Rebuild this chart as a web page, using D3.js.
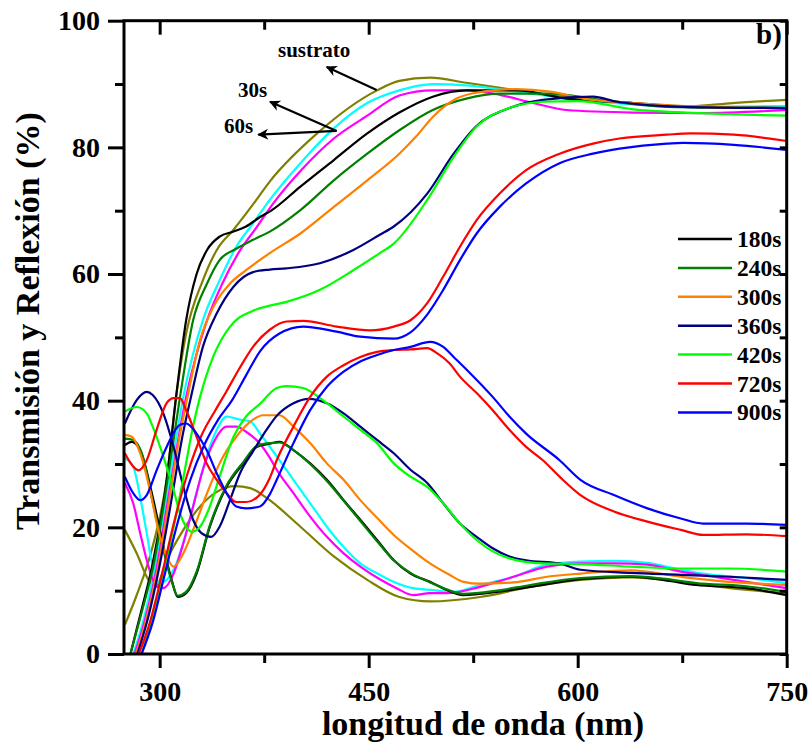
<!DOCTYPE html>
<html><head><meta charset="utf-8">
<script src="https://cdn.jsdelivr.net/npm/d3@7"></script>
<style>body{margin:0;background:#fff}</style>
</head><body>
<svg id="c" width="812" height="747"></svg>
<script>
// ---------- axis ticks ----------
const xTicks = [300, 450, 600, 750];
const xMinor = [375, 525, 675];
const yTicks = [0, 20, 40, 60, 80, 100];
const yMinor = [10, 30, 50, 70, 90];
const legendNames = ["180s","240s","300s","360s","420s","720s","900s"];

// ---------- data: [wavelength nm, %] ----------
const T_sustrato = [[275,4.6],[283,9],[295,17],[305,27.5],[312,41],[319,50.6],[331,59],[341,63.8],[353,67],[367,71],[379,74.6],[413,82.2],[456,89],[472,90.5],[494,91],[520,90.2],[556,89],[592,87.9],[640,87],[681,86.5],[711,87],[750,87.5]];
const R_sustrato = [[275,19.6],[283.5,15.9],[292,11.7],[297,10.6],[305,14.8],[317,19.6],[329,23.3],[341,25.6],[354,26.5],[365,26.2],[377,24.6],[401,20.1],[425,15.4],[449,11.7],[472,9],[494,8.3],[530,9],[566,10.6],[602,11.7],[638,12.1],[674,11.4],[709,10.4],[750,9.6]];

const T_30s = [[281,0],[288,5],[295,12],[307,27.5],[317,40.6],[331,52.7],[343,59],[355,64.3],[367,68],[379,71.7],[401,77.5],[425,83],[449,87],[472,89],[496,90],[520,89.8],[556,88.8],[592,87.7],[640,86.8],[688,86.4],[750,86.5]];
const R_30s = [[275,30.9],[281,29.6],[286,24.8],[290.7,19.1],[295,13.8],[300,11.2],[305,11.7],[312,14.3],[319,19.1],[326.5,25.4],[333.7,31.2],[341,35.4],[348,37.5],[357.6,37],[365,36.7],[372,34.8],[384,31.2],[396,27.5],[408,23.8],[420,20.1],[432,16.9],[444,14.3],[458,12.5],[465,11.7],[482,10.4],[496,10.1],[511,9.8],[530,10.9],[554,12.2],[578,14.1],[602,14.6],[626,14.7],[650,14.4],[674,13.3],[697,12.5],[721,12],[750,11.2]];

const T_60s = [[282,0],[289,5],[296,11.5],[308,27],[319,40.6],[334,52.7],[345,58.5],[357,63.5],[369,67.2],[381,71],[402,76.5],[425,81.4],[449,85],[472,88.2],[496,89],[520,89],[544,88.3],[568,87],[592,85.9],[640,85.5],[688,85.4],[750,85.9]];
const R_60s = [[275,27],[281,23.8],[286,19.1],[292,13.8],[298,10.6],[302.6,10.4],[310,12.7],[317,17.5],[324,23.3],[331,29.1],[338.5,33.3],[348,35.9],[355,35.9],[362,35.1],[372,33.2],[379,31],[384,29.1],[396,25.4],[408,21.7],[420,18.5],[432,15.9],[444,13.8],[458,11.8],[470,10.4],[482,9.3],[494,9.6],[506,9.6],[530,10.6],[554,12.2],[578,13.8],[602,14.3],[626,14.3],[650,14.1],[674,13],[697,12.2],[721,11.4],[750,10.4]];

const T_180s = [[279,0],[287,7],[295,14.3],[305,27.5],[312,41],[319,52.7],[326.5,60],[334,63.8],[343,65.9],[353,66.7],[362,67.5],[372,69],[380,70],[401,73.8],[425,78],[449,82.2],[472,85.5],[496,88],[520,89],[556,89],[592,87.7],[640,87],[676,86.4],[750,86.2]];
const R_180s = [[275,33],[280,33.5],[286,32.2],[295,24.8],[302.6,17],[308.6,11.7],[313,9],[319,9.6],[326.5,12.7],[336,20.1],[348,26.4],[360,30.1],[369.6,32.7],[379,33.2],[386,33.5],[396,32.2],[408,30.1],[420,27.5],[432,24.3],[444,21.2],[456,18],[468,14.8],[480,12.7],[494,11.4],[506,10.1],[518,9.3],[542,9.8],[566,10.6],[602,11.8],[638,12.2],[661,11.7],[685,10.9],[721,10.4],[750,9.3]];

const T_240s = [[279,0],[287,6.5],[296,14.5],[306,28],[314.6,40.6],[324,52.7],[334,58.5],[343,62.2],[355,64],[367,65.4],[379,66.7],[401,70.1],[425,74.8],[449,79],[472,82.7],[496,85.9],[520,87.7],[544,88.5],[580,88.5],[616,87.5],[664,86.4],[750,86.2]];
const R_240s = [[275,34],[281,33.8],[287,31.8],[295,24],[302.6,16.5],[308.6,11.5],[313,9.2],[319,9.8],[326.5,13],[336,20.3],[348,26.6],[360,30.3],[369.6,32.8],[379,33.3],[386,33.4],[396,32.2],[408,30],[420,27.3],[432,24.2],[444,21],[456,17.8],[468,14.8],[480,12.8],[494,11.3],[506,10.2],[518,9.5],[542,10],[566,10.9],[602,12],[638,12.3],[661,11.9],[685,11.2],[721,10.7],[750,9.8]];

const T_300s = [[283,0],[291,6],[299,14],[308,26],[314,34],[320,40.6],[329,49.6],[338.5,54.8],[350.5,58.5],[362,60.6],[379,63.3],[401,66.4],[425,70.6],[449,74.8],[472,79],[484,81.7],[496,84.8],[513,87.7],[532,88.8],[556,89.2],[580,88.8],[604,87.7],[640,87],[688,86.4],[750,86.2]];
const R_300s = [[275,34.6],[280,34.3],[286,31.7],[293,25.9],[299,19.6],[305,15.4],[310,13.8],[317,15.9],[324,19.6],[334,25.4],[343,30.1],[355,34.3],[367,37],[374,37.7],[386,37.7],[396,35.9],[408,33.3],[420,30.1],[432,27.5],[444,24.3],[456,21.5],[468,18.8],[480,16.6],[494,14.3],[508,12.5],[518,11.4],[530,11.1],[554,11.3],[578,12.2],[602,12.7],[638,13.2],[674,12.2],[709,11.4],[750,10.9]];

const T_360s = [[284,0],[292,6],[300,14],[309,25],[316,34],[322.5,40.6],[331,48.5],[341,53.8],[353,58],[367,60.3],[379,60.7],[391,60.9],[415,61.7],[439,63.8],[458,66.2],[468,67.5],[492,72.7],[511,79],[527,83.3],[551,86.2],[575,87.5],[611,88],[628,87.2],[676,86.4],[750,86.2]];
const R_360s = [[275,36.4],[283.5,40.1],[290.7,41.4],[295,40.9],[302.6,38],[310,32.7],[317,26.4],[324,21.2],[330,19.1],[337,18.5],[343,20.1],[350.5,24.3],[357.6,28.5],[367,32],[377,35.5],[384,37.6],[396,39.6],[407,40.3],[420,39.6],[432,38],[444,35.9],[456,33.8],[468,31.7],[480,29.1],[492,27],[503.5,23.8],[515.5,20.6],[527.5,18.5],[539,16.7],[551,15.4],[563,14.8],[587,14.3],[602,13.3],[638,12.8],[674,12.5],[709,12.2],[750,11.7]];

const T_420s = [[287,0],[294,5],[302,12],[310,20],[318,29],[324,36],[329,40.6],[338.5,47],[350.5,51.7],[367,54.2],[379,55],[391,55.6],[415,57.5],[439,60.6],[458,63.3],[468,64.8],[492,71.7],[511,78.5],[527.5,83.3],[551,86.2],[575,87.2],[600,87.3],[640,86],[688,85.4],[750,85]];
const R_420s = [[275,38.3],[283.5,39],[290.7,38],[295,35.9],[302.6,31.2],[310,25.9],[314.6,22.2],[319,20.1],[323,19.3],[329,20.1],[336,23.3],[343,28],[353,34.3],[362,37.5],[372,39.5],[384,42],[391,42.3],[403,42],[410,41.2],[420,39.6],[432,37.5],[444,35.4],[456,33.3],[468,30.1],[480,28],[492,26.4],[503.5,23.8],[515.5,20.6],[527.5,18],[539,16.2],[551,15.1],[575,14.3],[602,14.2],[638,13.8],[674,13.5],[709,13.5],[750,13]];

const T_720s = [[285,0],[293,5],[301,12],[310,20.5],[320,28.5],[330,34.5],[340,38.5],[348,41.5],[357,45],[367,48.5],[379,51.2],[391,52.5],[403,52.6],[427,51.7],[451,51.1],[468,51.7],[480,52.7],[492,55.4],[503.5,59.6],[515.5,64.3],[527.5,68.5],[544,72.7],[563,76.4],[587,79],[611,80.6],[630,81.4],[664,82],[681,82.2],[712,82],[750,81]];
const R_720s = [[275,31.7],[281,29.6],[284.6,29],[290.7,30.6],[297.8,35.4],[305,39.6],[310,40.4],[314.6,40.4],[319,38.5],[326.5,34.3],[333.7,30.1],[341,27.5],[348,25.4],[355,24],[362,24],[372,25.2],[379,27.8],[384,30.6],[396,35.9],[408,40.6],[420,43.8],[432,45.6],[444,46.9],[456,47.7],[468,48],[480,48.1],[492,48.3],[499,47.5],[508,45.9],[515.5,43.8],[527.5,41.2],[539,38.5],[551,35.4],[563,32.7],[575,30.6],[587,28],[602,25.1],[626,22.5],[650,20.9],[674,19.6],[690,18.8],[721,18.9],[750,18.6]];

const T_900s = [[287,0],[295,5],[303,12],[312,20],[322,27.5],[332,33],[342,37],[352,40.1],[362,44],[372,47.8],[386,50.6],[403,51.7],[427,50.9],[444,50.1],[468,49.8],[480,50.8],[492,53.6],[503.5,57.5],[515.5,62.2],[527.5,66.4],[544,70.6],[563,74.3],[587,77.5],[611,79],[630,79.8],[664,80.6],[676,80.7],[712,80.4],[750,79.6]];
const R_900s = [[275,28],[281,25.4],[286,24.3],[290.7,25.1],[297.8,29],[305,32.7],[314.6,36.2],[319,36.4],[326.5,34.8],[333.7,32.2],[341,28.5],[348,25.4],[355,23.3],[362,23],[372,23.3],[379,25.2],[384,27.5],[396,33.3],[408,38.5],[420,42.2],[432,44.6],[444,46.2],[456,47.2],[468,48],[480,48.5],[494,49.3],[503.5,48.5],[511,46.9],[523,44.3],[539,40.6],[551,37.5],[563,34.8],[587,30.6],[602,27.5],[626,25.1],[650,23],[674,21.4],[690,20.6],[721,20.6],[750,20.4]];

// annotations in data units
const annotations = [
  {text:"sustrato", at:[384.9,94.3], from:[455.7,89.05], to:[419.9,92.7]},
  {text:"30s", at:[356.2,88.0], from:[427,82.6], to:[379.2,87.2]},
  {text:"60s", at:[346.1,82.3], from:[427,82.6], to:[370.8,82.0]}
];

const series = [
  {name:"sustrato", color:"#808000", T:T_sustrato, R:R_sustrato},
  {name:"30s", color:"#00ffff", T:T_30s, R:R_30s},
  {name:"60s", color:"#ff00ff", T:T_60s, R:R_60s},
  {name:"180s", color:"#000000", T:T_180s, R:R_180s},
  {name:"240s", color:"#008000", T:T_240s, R:R_240s},
  {name:"300s", color:"#ff8000", T:T_300s, R:R_300s},
  {name:"360s", color:"#000080", T:T_360s, R:R_360s},
  {name:"420s", color:"#00ff00", T:T_420s, R:R_420s},
  {name:"720s", color:"#ff0000", T:T_720s, R:R_720s},
  {name:"900s", color:"#0000ff", T:T_900s, R:R_900s}
];

// ---------- layout ----------
const FONT = "'Liberation Serif','Times New Roman',serif";
const L = 124, R = 786.7, TOP = 20.7, BOT = 654;
const svg = d3.select("#c");
const x = d3.scaleLinear().domain([274.4, 750]).range([L, R]);
const y = d3.scaleLinear().domain([0, 100]).range([BOT, TOP]);

svg.append("defs").append("clipPath").attr("id","clip")
  .append("rect").attr("x",L).attr("y",TOP).attr("width",R-L).attr("height",BOT-TOP);

const line = d3.line().x(d=>x(d[0])).y(d=>y(d[1])).curve(d3.curveMonotoneX);
const g = svg.append("g").attr("clip-path","url(#clip)");
series.forEach(s=>{
  ["R","T"].forEach(k=>{
    g.append("path").datum(s[k]).attr("d",line)
      .attr("fill","none").attr("stroke",s.color).attr("stroke-width",2.2)
      .attr("stroke-linejoin","round");
  });
});

// ---------- axes ----------
function styleAxis(sel){
  sel.select(".domain").remove();
  sel.selectAll("line").attr("stroke","#000").attr("stroke-width",3);
  sel.selectAll("text").attr("font-family",FONT).attr("font-weight","bold")
     .attr("font-size",28).attr("fill","#000");
}
svg.append("g").attr("transform",`translate(0,${BOT})`)
  .call(d3.axisBottom(x).tickValues(xTicks).tickSize(14).tickFormat(d3.format("d")))
  .call(styleAxis).call(a=>a.selectAll("text").attr("y",47).attr("dy",0));
svg.append("g").attr("transform",`translate(0,${BOT})`)
  .call(d3.axisBottom(x).tickValues(xMinor).tickSize(9).tickFormat(""))
  .call(styleAxis);
svg.append("g").attr("transform",`translate(0,${TOP})`)
  .call(d3.axisTop(x).tickValues(xTicks).tickSize(-14).tickFormat(""))
  .call(styleAxis);
svg.append("g").attr("transform",`translate(0,${TOP})`)
  .call(d3.axisTop(x).tickValues(xMinor).tickSize(-9).tickFormat(""))
  .call(styleAxis);
svg.append("g").attr("transform",`translate(${L},0)`)
  .call(d3.axisLeft(y).tickValues(yTicks).tickSize(16).tickPadding(8).tickFormat(d3.format("d")))
  .call(styleAxis);
svg.append("g").attr("transform",`translate(${L},0)`)
  .call(d3.axisLeft(y).tickValues(yMinor).tickSize(9).tickFormat(""))
  .call(styleAxis);
svg.append("g").attr("transform",`translate(${R},0)`)
  .call(d3.axisRight(y).tickValues(yTicks.concat(yMinor)).tickSize(-7).tickFormat(""))
  .call(styleAxis);

// frame
svg.append("rect").attr("x",L).attr("y",TOP).attr("width",R-L).attr("height",BOT-TOP)
  .attr("fill","none").attr("stroke","#000").attr("stroke-width",3);

// titles
svg.append("text").attr("x",483).attr("y",735).attr("text-anchor","middle")
  .attr("font-family",FONT).attr("font-weight","bold").attr("font-size",34)
  .text("longitud de onda (nm)");
svg.append("text").attr("transform","translate(39,321) rotate(-90)").attr("text-anchor","middle")
  .attr("font-family",FONT).attr("font-weight","bold").attr("font-size",34)
  .text("Transmisión y Reflexión (%)");
svg.append("text").attr("x",x(746.5)).attr("y",y(96.3)).attr("text-anchor","end")
  .attr("font-family",FONT).attr("font-weight","bold").attr("font-size",29)
  .text("b)");

// annotations
const defs = svg.select("defs");
defs.append("marker").attr("id","arr").attr("viewBox","0 0 10 10").attr("refX",9).attr("refY",5)
  .attr("markerWidth",16).attr("markerHeight",11).attr("markerUnits","userSpaceOnUse")
  .attr("orient","auto").append("path").attr("d","M0,0 L10,5 L0,10 L3,5 Z").attr("fill","#000");
annotations.forEach(a=>{
  svg.append("line").attr("x1",x(a.from[0])).attr("y1",y(a.from[1]))
    .attr("x2",x(a.to[0])).attr("y2",y(a.to[1]))
    .attr("stroke","#000").attr("stroke-width",2.2).attr("marker-end","url(#arr)");
  svg.append("text").attr("x",x(a.at[0])).attr("y",y(a.at[1]))
    .attr("font-family",FONT).attr("font-weight","bold").attr("font-size",21)
    .text(a.text);
});

// legend
const lg = svg.append("g");
legendNames.forEach((n,i)=>{
  const s = series.find(d=>d.name===n);
  const yy = 239 + i*28.9;
  lg.append("line").attr("x1",678).attr("x2",732).attr("y1",yy).attr("y2",yy)
    .attr("stroke",s.color).attr("stroke-width",2.5);
  lg.append("text").attr("x",737).attr("y",yy+8).attr("font-family",FONT)
    .attr("font-weight","bold").attr("font-size",23.5).text(n);
});
</script>
</body></html>
